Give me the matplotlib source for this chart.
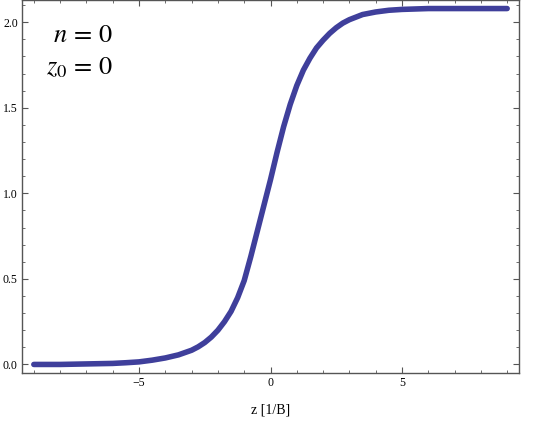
import matplotlib
matplotlib.use("Agg")
import matplotlib.pyplot as plt
from matplotlib.ticker import MultipleLocator

plt.rcParams['font.family'] = ['Liberation Serif', 'DejaVu Serif']
plt.rcParams['mathtext.fontset'] = 'stix'

# values
z_vals = [-9, -8, -7, -6, -5.5, -5, -4.5, -4, -3.5, -3, -2.75, -2.5, -2.25,
          -2, -1.75, -1.5, -1.25, -1, -0.75, -0.5, -0.25, 0,
          0.25, 0.5, 0.75, 1, 1.25, 1.5, 1.75, 2, 2.25,
          2.5, 2.75, 3, 3.5, 4, 4.5, 5, 6, 7, 8, 9]
f_vals = [0.0, 0.0, 0.003, 0.006, 0.01, 0.015, 0.025, 0.038, 0.056, 0.083, 0.103, 0.128, 0.16,
          0.2, 0.25, 0.31, 0.39, 0.49, 0.63, 0.78, 0.93, 1.08,
          1.24, 1.39, 1.52, 1.63, 1.72, 1.79, 1.85, 1.895, 1.935,
          1.968, 1.995, 2.015, 2.045, 2.06, 2.07, 2.075, 2.08, 2.08, 2.08, 2.08]

fig = plt.figure(figsize=(5.45, 4.36), dpi=100)
ax = fig.add_axes([22/545, 1 - 373/436, 497/545, 373/436])

ax.plot(z_vals, f_vals, color='#3f3f9b', lw=4.0, solid_capstyle='round',
        solid_joinstyle='round')

ax.set_xlim(-9.45, 9.45)
ax.set_ylim(-0.05, 2.13)

ax.xaxis.set_major_locator(MultipleLocator(5))
ax.xaxis.set_minor_locator(MultipleLocator(1))
ax.yaxis.set_major_locator(MultipleLocator(0.5))
ax.yaxis.set_minor_locator(MultipleLocator(0.1))
ax.yaxis.set_major_formatter(matplotlib.ticker.FormatStrFormatter('%.1f'))

ax.tick_params(which='both', direction='in', top=True, right=True,
               labelsize=8.5, color='#555555', pad=3)
ax.tick_params(which='major', length=4, width=0.8)
ax.tick_params(which='minor', length=2, width=0.6)
for s in ax.spines.values():
    s.set_color('#555555')
    s.set_linewidth(1.0)

ax.set_xlabel('z [1/B]', fontsize=10, labelpad=10)

ax.text(0.183, 0.888, r'$n\,=\,0$', transform=ax.transAxes, fontsize=19,
        ha='right', va='baseline')
ax.text(0.183, 0.80, r'$z_0\,=\,0$', transform=ax.transAxes, fontsize=19,
        ha='right', va='baseline')

fig.savefig('out.png', dpi=100)
